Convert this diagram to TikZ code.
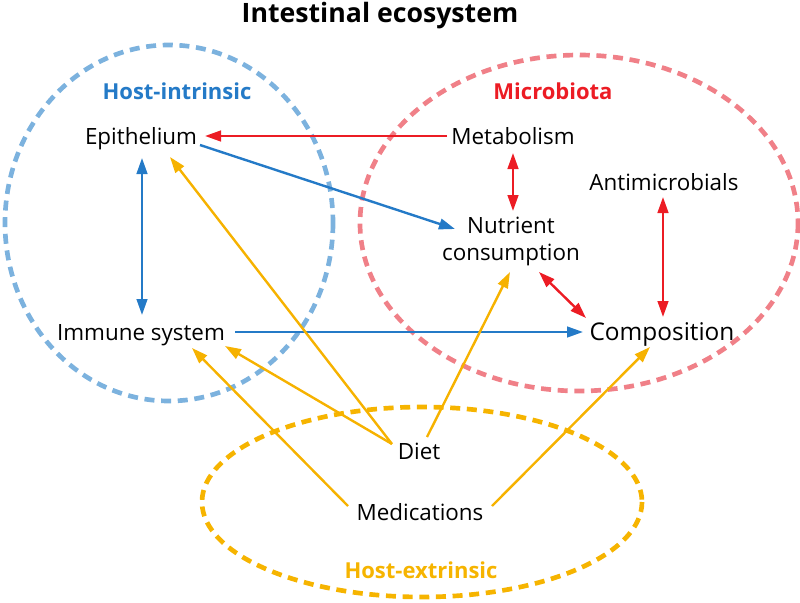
\documentclass[tikz,border=0pt]{standalone}
\usepackage{fontspec}
\setmainfont{Open Sans}
\usetikzlibrary{arrows.meta,calc}
\definecolor{hiblue}{RGB}{124,178,222}
\definecolor{mbred}{RGB}{240,128,136}
\definecolor{heyel}{RGB}{246,180,0}
\definecolor{arblue}{RGB}{36,122,199}
\definecolor{arred}{RGB}{236,28,36}
\definecolor{aryel}{RGB}{246,178,0}
\tikzset{
  region/.style={line width=3.5pt, dash pattern=on 7.5pt off 5pt},
  lbl/.style={font=\fontsize{16.8}{20.25}\selectfont, inner sep=0pt, anchor=base},
  grp/.style={font=\fontsize{16.5}{21}\selectfont\bfseries, inner sep=0pt, anchor=base},
  conn/.style={line width=1.8pt, -{Triangle[length=12pt,width=8pt]}},
  bconn/.style={line width=1.8pt, {Triangle[length=12pt,width=8pt]}-{Triangle[length=12pt,width=8pt]}},
}
\begin{document}
\begin{tikzpicture}[x=0.75pt,y=-0.75pt]
\useasboundingbox (0,0) rectangle (800,603);
% regions
\draw[region, hiblue] (169,223) ellipse [x radius=164, y radius=178];
\draw[region, mbred] (579,223) ellipse [x radius=219, y radius=168];
\draw[region, heyel] (422,502) ellipse [x radius=220, y radius=95];
% titles
\node[grp, font=\fontsize{20}{24}\selectfont\bfseries] (title) at (380,22) {Intestinal ecosystem};
\node[grp, text=arblue] (hi) at (177,99) {Host-intrinsic};
\node[grp, text=arred] (mb) at (553,99) {Microbiota};
\node[grp, text=heyel] (he) at (421,578) {Host-extrinsic};
% nodes
\node[lbl] (epi) at (141,144) {Epithelium};
\node[lbl] (met) at (513,144) {Metabolism};
\node[lbl] (anti) at (664,190) {Antimicrobials};
\node[lbl, anchor=center, align=center] (nut) at (511,241) {Nutrient\\consumption};
\node[lbl] (imm) at (141,340) {Immune system};
\node[lbl, font=\fontsize{18.3}{22}\selectfont] (comp) at (662,340) {Composition};
\node[lbl] (diet) at (419,459) {Diet};
\node[lbl] (med) at (420,520) {Medications};
% connectors
\draw[conn, arred] ($(met.base)+(-66,-8)$) -- ($(epi.base)+(64,-8)$);
\draw[conn, arblue] ($(epi.base)+(59,1)$) -- ($(nut.center)+(-56,-12)$);
\draw[bconn, arblue] ($(epi.base)+(1,14)$) -- ($(imm.base)+(1,-25)$);
\draw[bconn, arred] ($(met.base)+(0,9)$) -- ($(nut.center)+(2,-30)$);
\draw[bconn, arred] ($(anti.base)+(-1,7)$) -- ($(comp.base)+(1,-23)$);
\draw[bconn, arred] ($(nut.center)+(28,31)$) -- ($(comp.base)+(-76,-22)$);
\draw[conn, arblue] ($(imm.base)+(94,-8)$) -- ($(comp.base)+(-79,-8)$);
\draw[conn, aryel] ($(diet.base)+(-27,-15)$) -- ($(epi.base)+(29,13)$);
\draw[conn, aryel] ($(diet.base)+(-27,-15)$) -- ($(imm.base)+(84,6)$);
\draw[conn, aryel] ($(diet.base)+(8,-22)$) -- ($(nut.center)+(-1,31)$);
\draw[conn, aryel] ($(med.base)+(-72,-14)$) -- ($(imm.base)+(51,8)$);
\draw[conn, aryel] ($(med.base)+(72,-14)$) -- ($(comp.base)+(-12,7)$);
\end{tikzpicture}
\end{document}
